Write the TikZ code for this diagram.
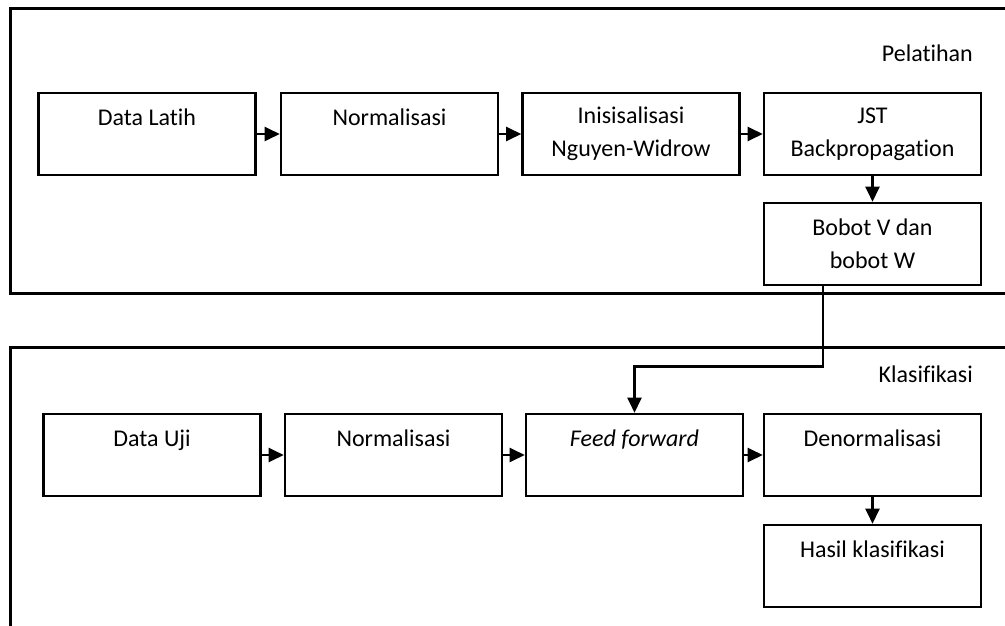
\documentclass[tikz,border=0pt]{standalone}
\usepackage{fontspec}
\setmainfont{Carlito}[Ligatures=NoCommon]
\usetikzlibrary{arrows.meta}
\begin{document}
\begin{tikzpicture}[x=1pt,y=-1pt,
  stage/.style={draw=black,line width=2.6pt,minimum width=217pt,minimum height=82pt,
    align=center,inner sep=0pt,font=\fontsize{24}{33}\selectfont},
  caption/.style={anchor=base east,inner sep=0pt,font=\fontsize{24}{33}\selectfont},
  frame/.style={line width=3pt},
  flow/.style={line width=2.4pt,-{Triangle[length=15pt,width=14pt]}}]
\fill[white] (0,0) rectangle (1005,626);
\useasboundingbox (0,0) rectangle (1005,626);

% phase frames (open on the right)
\draw[frame] (1005,9) -- (10,9) -- (10,293) -- (1005,293);
\draw[frame] (1005,347) -- (10,347) -- (10,626);

\node[caption] (pel) at (973,62) {Pelatihan};
\node[caption] (kla) at (973,382) {Klasifikasi};

% training stages
\node[stage] (latih) at (147,134) {Data Latih\\\mbox{}};
\node[stage] (norm1) at (389.5,134) {Normalisasi\\\mbox{}};
\node[stage] (init) at (631,134) {Inisisalisasi\\Nguyen-Widrow};
\node[stage] (jst) at (872.5,134) {JST\\Backpropagation};
\node[stage] (bobot) at (872.5,244) {Bobot V dan\\bobot W};

% classification stages
\node[stage] (uji) at (152,455) {Data Uji\\\mbox{}};
\node[stage] (norm2) at (393.5,455) {Normalisasi\\\mbox{}};
\node[stage] (ff) at (634.5,455) {\textit{Feed forward}\\\mbox{}};
\node[stage] (denorm) at (872.5,455) {Denormalisasi\\\mbox{}};
\node[stage] (hasil) at (872.5,566) {Hasil klasifikasi\\\mbox{}};

% connectors
\draw[flow] (latih) -- (norm1);
\draw[flow] (norm1) -- (init);
\draw[flow] (init) -- (jst);
\draw[flow] (jst) -- (bobot);
\draw[flow] (uji) -- (norm2);
\draw[flow] (norm2) -- (ff);
\draw[flow] (ff) -- (denorm);
\draw[flow] (denorm) -- (hasil);
\draw[flow] ([xshift=-49.5pt]bobot.south) -- ++(0,80) -| (ff.north);
\end{tikzpicture}
\end{document}
